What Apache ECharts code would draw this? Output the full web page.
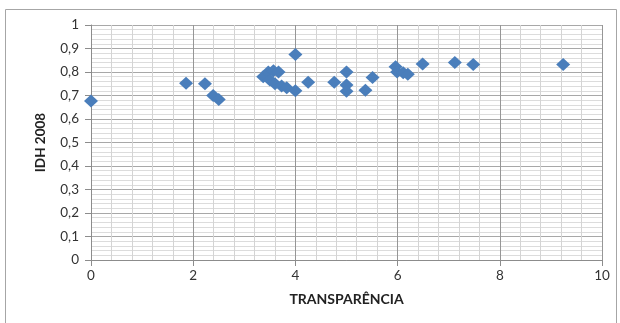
<!DOCTYPE html>
<html>
<head>
<meta charset="utf-8">
<script src="https://cdn.jsdelivr.net/npm/echarts@6/dist/echarts.min.js"></script>
<style>html,body{margin:0;padding:0;background:#fff;}#c{width:620px;height:323px;}</style>
</head>
<body>
<div id="c"></div>
<script>
// TRANSPARÊNCIA (x) vs IDH 2008 (y)
var transparencia = [0, 1.86, 2.23, 2.39, 2.5,
  3.37, 3.47, 3.57, 3.67, 3.5, 3.6, 3.73, 3.83,
  4.0, 4.0, 4.25, 4.76, 5.0, 5.0, 5.0, 5.37, 5.51,
  5.96, 5.99, 6.11, 6.2, 6.49, 7.12, 7.48, 9.24];
var idh2008 = [0.677, 0.752, 0.75, 0.70, 0.683,
  0.78, 0.80, 0.805, 0.80, 0.766, 0.75, 0.74, 0.733,
  0.875, 0.72, 0.756, 0.756, 0.80, 0.745, 0.718, 0.722, 0.777,
  0.822, 0.80, 0.797, 0.79, 0.834, 0.84, 0.832, 0.832];
var xTitle = 'TRANSPARÊNCIA';
var yTitle = 'IDH 2008';

var pts = transparencia.map(function (x, i) { return [x, idh2008[i]]; });
var font = 'Lato, "Open Sans", sans-serif';
var chart = echarts.init(document.getElementById('c'), null, {renderer: 'canvas'});
chart.setOption({
  animation: false,
  graphic: [{
    type: 'rect', shape: {x: 5.5, y: 9.5, width: 611, height: 330},
    style: {fill: 'none', stroke: '#a6a6a6', lineWidth: 1}, silent: true, z: -1
  }],
  grid: {left: 91, right: 18, top: 25, bottom: 63},
  xAxis: {
    type: 'value', min: 0, max: 10, interval: 2,
    name: xTitle, nameLocation: 'middle', nameGap: 32,
    nameTextStyle: {fontFamily: font, fontWeight: 'bold', fontSize: 14, color: '#222'},
    axisLine: {show: true, lineStyle: {color: '#8c8c8c'}},
    axisTick: {show: true, length: 6, lineStyle: {color: '#8c8c8c'}},
    axisLabel: {fontFamily: font, fontSize: 13.5, color: '#333', margin: 9},
    splitLine: {show: true, lineStyle: {color: '#969696'}},
    minorTick: {show: false, splitNumber: 5},
    minorSplitLine: {show: true, lineStyle: {color: '#d4d4d4'}}
  },
  yAxis: {
    type: 'value', min: 0, max: 1, interval: 0.1,
    name: yTitle, nameLocation: 'middle', nameGap: 43, nameRotate: 90,
    nameTextStyle: {fontFamily: font, fontWeight: 'bold', fontSize: 13.5, color: '#222'},
    axisLine: {show: true, lineStyle: {color: '#8c8c8c'}},
    axisTick: {show: true, length: 6, lineStyle: {color: '#8c8c8c'}},
    axisLabel: {fontFamily: font, fontSize: 13.5, color: '#333', margin: 12,
      formatter: function (v) { return (Math.round(v * 10) / 10).toString().replace('.', ','); }},
    splitLine: {show: true, lineStyle: {color: '#a8a8a8'}},
    minorTick: {show: false, splitNumber: 5},
    minorSplitLine: {show: true, lineStyle: {color: '#dcdcdc'}}
  },
  series: [{
    type: 'scatter', data: pts, symbol: 'diamond', symbolSize: [14, 13],
    itemStyle: {color: '#4a7ebb', opacity: 1}
  }]
});
</script>
</body>
</html>
